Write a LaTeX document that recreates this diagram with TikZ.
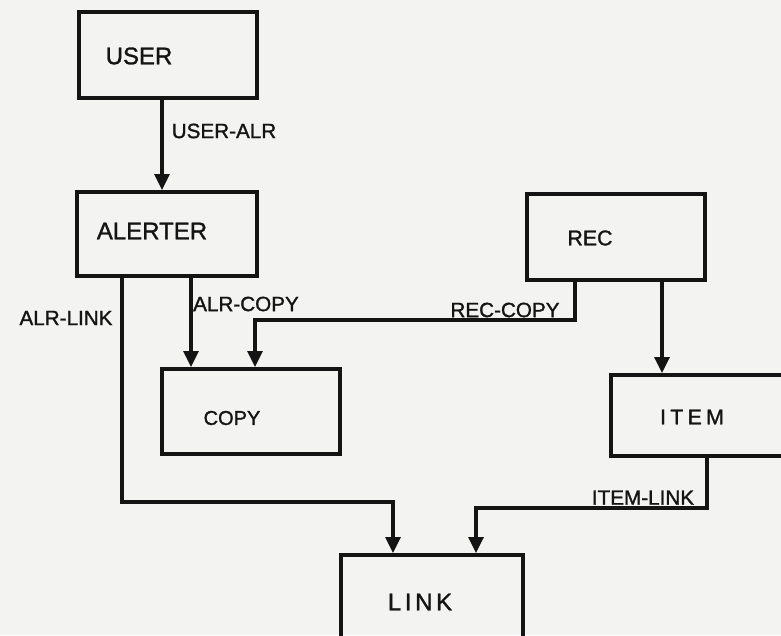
\documentclass[tikz,border=0pt]{standalone}
\usepackage{fontspec}
\setmainfont[FakeBold=1.3]{Liberation Sans}
\usetikzlibrary{arrows.meta}
\definecolor{paper}{HTML}{F3F3F1}
\definecolor{ink}{HTML}{141414}
\begin{document}
\begin{tikzpicture}[x=0.75pt,y=-0.75pt,
  boxnode/.style={draw=ink,line width=2.7pt,inner sep=0pt},
  boxtext/.style={inner sep=0pt,text=ink,font=\fontsize{18pt}{20pt}\selectfont},
  lbl/.style={inner sep=0pt,text=ink,font=\fontsize{15.5pt}{18pt}\selectfont},
  arr/.style={draw=ink,line width=2.7pt,-{Triangle[length=12pt,width=11pt]}}]
\fill[paper] (0,0) rectangle (781,635);
\useasboundingbox (0,0) rectangle (781,635);
\clip (0,0) rectangle (781,635);
% boxes
\node[boxnode,minimum width=133.5pt,minimum height=64.5pt] (user) at (168,55) {};
\node[boxnode,minimum width=135pt,minimum height=63pt] (alerter) at (167,234) {};
\node[boxnode,minimum width=133.5pt,minimum height=63.75pt] (copy) at (251,411.5) {};
\node[boxnode,minimum width=133.5pt,minimum height=64.5pt] (rec) at (616,237) {};
\node[boxnode,minimum width=141.75pt,minimum height=60.75pt] (item) at (705.5,415.5) {};
\node[boxnode,minimum width=136.5pt,minimum height=78.75pt] (link) at (432,607.5) {};
% box texts
\node[boxtext] (tuser) at (139,56) {USER};
\node[boxtext] (talerter) at (152,231) {ALERTER};
\node[boxtext,font=\fontsize{15pt}{17pt}\selectfont] (tcopy) at (232,418) {COPY};
\node[boxtext,font=\fontsize{16pt}{18pt}\selectfont] (trec) at (590,238) {REC};
\node[boxtext,font=\fontsize{16pt}{18pt}\selectfont\addfontfeature{LetterSpace=20}] (titem) at (692,417) {ITEM};
\node[boxtext,font=\fontsize{18pt}{20pt}\selectfont\addfontfeature{LetterSpace=15}] (tlink) at (420,602) {LINK};
% lane coordinates
\coordinate (ua) at (162,0);
\coordinate (ac) at (191,0);
\coordinate (ri) at (662,0);
\coordinate (al1) at (122,502);
\coordinate (al2) at (393,502);
\coordinate (rc1) at (575,320);
\coordinate (rc2) at (255,320);
\coordinate (il1) at (707,508);
\coordinate (il2) at (476,508);
% connectors
\draw[arr] (user.south -| ua) -- (alerter.north -| ua);
\draw[arr] (alerter.south -| ac) -- (copy.north -| ac);
\draw[arr] (alerter.south -| al1) -- (al1) -- (al2) -- (link.north -| al2);
\draw[arr] (rec.south -| rc1) -- (rc1) -- (rc2) -- (copy.north -| rc2);
\draw[arr] (rec.south -| ri) -- (item.north -| ri);
\draw[arr] (item.south -| il1) -- (il1) -- (il2) -- (link.north -| il2);
% labels
\node[lbl] (luseralr) at (224,131) {USER-ALR};
\node[lbl] (lalrlink) at (66,318) {ALR-LINK};
\node[lbl] (lalrcopy) at (246,304) {ALR-COPY};
\node[lbl] (lreccopy) at (505,310) {REC-COPY};
\node[lbl,anchor=south] (litemlink) at (643,505) {ITEM-LINK};
\end{tikzpicture}
\end{document}
